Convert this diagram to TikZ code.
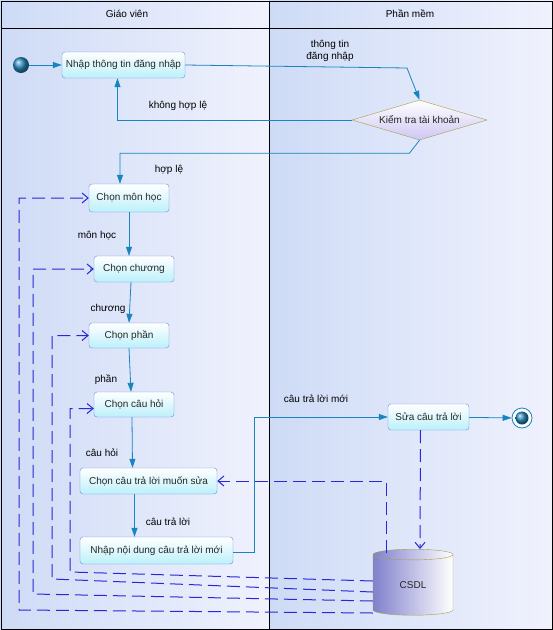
\documentclass[tikz,border=0pt]{standalone}
\usepackage{fontspec}
\setmainfont{Liberation Sans}
\usepackage{tikz}
\usetikzlibrary{arrows.meta}
\usetikzlibrary{positioning, shapes.geometric, shadings}

\definecolor{flowc}{RGB}{24,132,192}
\definecolor{depc}{RGB}{40,40,215}
\definecolor{boxline}{RGB}{105,140,215}
\definecolor{boxfill}{RGB}{188,240,250}
\definecolor{lanea}{RGB}{206,219,246}
\definecolor{laneb}{RGB}{240,242,253}
\definecolor{olive}{RGB}{165,160,70}
\definecolor{lav}{RGB}{205,198,243}
\definecolor{dbside}{RGB}{128,128,205}
\definecolor{ballc}{RGB}{40,140,190}

\begin{document}
\begin{tikzpicture}[x=1pt, y=-1pt]
\useasboundingbox (0,0) rectangle (553,630);

% lanes
\fill[left color=lanea, right color=laneb] (0,0) rectangle (269,630);
\fill[left color=lanea, right color=laneb] (269,0) rectangle (553,630);
\draw[line width=0.8pt] (1,1) rectangle (552,629);
\draw[line width=0.8pt] (269,1) -- (269,629);
\draw[line width=0.8pt] (1,28) -- (552,28);
\node (lane1) at (127,14) {Giáo viên};
\node (lane2) at (410,14) {Phần mềm};

\tikzset{act/.style={rectangle, rounded corners=3pt, draw=boxline,
                     top color=white, bottom color=boxfill,
                     text=black!85, inner sep=2pt, minimum height=26pt}}

% activities
\node[circle, ball color=ballc, minimum size=16pt, inner sep=0pt] (start) at (21,65) {};
\node[act, minimum width=123pt] (login) at (123.5,65) {Nhập thông tin đăng nhập};
\node[diamond, draw=olive, top color=white, bottom color=lav, aspect=3.4,
      minimum width=135pt, minimum height=40pt, inner sep=0pt, text=black!85] (check) at (419.5,120) {Kiểm tra tài khoản};
\node[act, minimum width=80pt, minimum height=28pt] (subj) at (129,198) {Chọn môn học};
\node[act, minimum width=80pt] (chap) at (134,269) {Chọn chương};
\node[act, minimum width=80pt, minimum height=25pt] (part) at (129,335.5) {Chọn phần};
\node[act, minimum width=80pt, minimum height=25pt] (ques) at (134,404.5) {Chọn câu hỏi};
\node[act, minimum width=137pt] (pick) at (148.5,481) {Chọn câu trả lời muốn sửa};
\node[act, minimum width=153pt, minimum height=27pt] (input) at (156.5,550.5) {Nhập nội dung câu trả lời mới};
\node[act, minimum width=81pt] (edit) at (428.5,417) {Sửa câu trả lời};
\node[circle, draw=flowc, fill=white, line width=0.8pt, minimum size=20pt, inner sep=0pt] (stop) at (522,418) {};
\node[circle, ball color=ballc, minimum size=13pt, inner sep=0pt] (stopin) at (stop) {};
\node[cylinder, shape border rotate=90, aspect=0.4, draw=olive, left color=dbside, right color=white,
      minimum width=80pt, minimum height=66pt, inner sep=0pt, text=black!85] (db) at (413,585) {CSDL};

% flows
\begin{scope}[>={Triangle[length=9pt, width=6pt]}, line width=0.8pt,
              every edge/.style={draw=flowc}]
    \path [->] (start) edge (login);
    \path [->] (subj.south) edge ([xshift=-5pt]chap.north);
    \path [->] ([xshift=-3pt]chap.south) edge (part.north);
    \path [->] (part.south) edge ([xshift=-3pt]ques.north);
    \path [->] ([xshift=-2pt]ques.south) edge ([xshift=-16pt]pick.north);
    \path [->] ([xshift=-14pt]pick.south) edge ([xshift=-22pt]input.north);
    \path [->] (edit) edge (stop);
\end{scope}

\begin{scope}[>={Triangle[length=9pt, width=6pt]}, line width=0.8pt, draw=flowc]
    \draw [->] (login.east) -- (407,68) -- (check.north);
    \draw [->] (check.west) -| ([xshift=-6pt]login.south);
    \draw [->] (check.south) -- ++(-10,13) -| ([xshift=-9pt]subj.north);
    \draw [->] ([yshift=-2pt]input.east) -- (254,552.5) |- (edit.west);
\end{scope}

% data links
\begin{scope}[>={Straight Barb[length=6pt, width=10pt]}, draw=depc, line width=1pt,
              dash pattern=on 13pt off 6pt]
    \draw [->] ([xshift=-8pt]edit.south) -- ([xshift=7pt]db.north);
    \draw [->] ([xshift=-27pt,yshift=-4pt]db.north) |- (pick.east);
    \draw [->] ([yshift=4pt]db.west) -- (70,572) |- ([yshift=-4pt]ques.west);
    \draw [->] ([yshift=-7pt]db.west) -- (52,579) |- (part.west);
    \draw [->] ([yshift=-16pt]db.west) -- (33,594) |- (chap.west);
    \draw [->] ([yshift=-28pt]db.west) -- (19,610) |- (subj.west);
\end{scope}

% guards
\begin{scope}[every node/.style={inner sep=0pt, align=center}]
    \node (lbinfo) at (330,51) {thông tin\\đăng nhập};
    \node (lbbad) at (178,106) {không hợp lệ};
    \node (lbok) at (169,170) {hợp lệ};
    \node (lbsubj) at (97,236) {môn học};
    \node (lbchap) at (108,309) {chương};
    \node (lbpart) at (106,380) {phần};
    \node (lbques) at (102,453) {câu hỏi};
    \node (lbans) at (168,522) {câu trả lời};
    \node (lbnew) at (316,399) {câu trả lời mới};
\end{scope}

\end{tikzpicture}
\end{document}
